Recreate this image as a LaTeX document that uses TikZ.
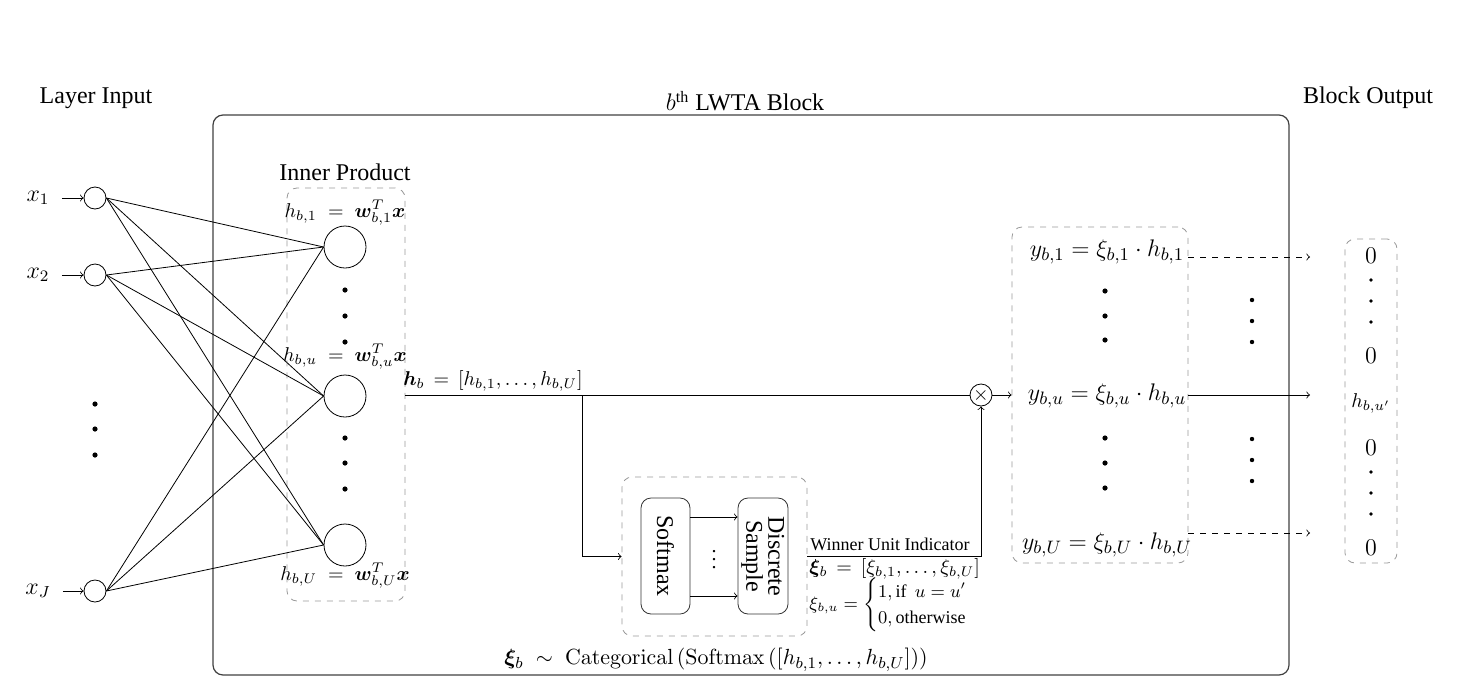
\documentclass[tikz,border=0pt]{standalone}
\usepackage{amsmath, amssymb}
\usepackage{bm}
\usepackage[no-math]{fontspec}
\setmainfont{Liberation Serif}
\usetikzlibrary{positioning}

\tikzset{
	unit/.style={draw, circle, minimum size=11pt, inner sep=0pt},
	hidden/.style={draw, circle, minimum size=21pt, inner sep=0pt},
	groupbox/.style={draw=gray!80, dashed, rounded corners=5pt, inner sep=0pt},
	opbox/.style={draw=black!80, rounded corners=5pt, minimum width=24.5pt, minimum height=58pt, inner sep=0pt, font=\large},
	mulnode/.style={draw, circle, minimum size=11pt, inner sep=0pt},
	ylabel/.style={font=\fontsize{13}{15}\selectfont},
}

\begin{document}
\begin{tikzpicture}[x=0.5pt, y=-0.5pt]
	\useasboundingbox (0,0) rectangle (1468,697);

	% --- Block frame and titles ---
	\node[draw=black!75, semithick, rounded corners=5pt, minimum width=538pt, minimum height=280pt, inner sep=0pt] (block) at (751,395) {};
	\node[font=\large] (blocktitle) at (745,101) {$b^{\text{th}}$ LWTA Block};
	\node[font=\large] (intitle) at (96,98) {Layer Input};
	\node[font=\large] (outtitle) at (1368,98) {Block Output};

	% --- Left: layer input ---
	\node[unit] (in1) at (95,198) {};
	\node[unit] (in2) at (95,275) {};
	\node[unit] (inJ) at (95,591) {};
	\node[font=\large, inner sep=2pt] (lx1) at (38,198) {$x_1$};
	\node[font=\large, inner sep=2pt] (lx2) at (38,275) {$x_2$};
	\node[font=\large, inner sep=2pt] (lxJ) at (38,591) {$x_J$};
	\draw[->] ([xshift=4pt]lx1.east) -- (in1);
	\draw[->] ([xshift=4pt]lx2.east) -- (in2);
	\draw[->] ([xshift=4pt]lxJ.east) -- (inJ);
	\foreach \y in {404,429,455}
		\fill (95,\y) circle (1.3pt);

	% --- Inner product units ---
	\node[groupbox, minimum width=59pt, minimum height=206.5pt] (ipbox) at (346,394.5) {};
	\node[font=\large] (iptitle) at (345,172) {Inner Product};
	\node[hidden] (h1) at (345,247) {};
	\node[hidden] (hu) at (345,396) {};
	\node[hidden] (hU) at (345,545) {};
	\node (lh1) at (345,213) {$h_{b,1}\;=\;\bm{w}^T_{b,1}\bm{x}$};
	\node (lhu) at (345,357) {$h_{b,u}\;=\;\bm{w}^T_{b,u}\bm{x}$};
	\node (lhU) at (345,576) {$h_{b,U}\;=\;\bm{w}^T_{b,U}\bm{x}$};
	\foreach \y in {290,316,342,438,463,489}
		\fill (345,\y) circle (1.3pt);

	% Full connections
	\foreach \i in {in1,in2,inJ}
		\foreach \h in {h1,hu,hU}
			\draw (\i.east) -- (\h.west);

	% --- Main path to the multiplier ---
	\node[mulnode] (mul) at (981,395) {$\times$};
	\coordinate (split) at (582,395);
	\draw (ipbox.east |- mul) -- (mul);
	\node (lhb) at (493,381) {$\bm{h}_b\,=\,[h_{b,1},\ldots,h_{b,U}]$};

	% --- Competition: softmax and sampling ---
	\node[groupbox, minimum width=92.5pt, minimum height=79.5pt] (smbox) at (714.5,556.5) {};
	\node[opbox] (smax) at (665.5,556) {\rotatebox{-90}{Softmax}};
	\node[opbox] (dsamp) at (763,556) {\rotatebox{-90}{\begin{tabular}{@{}c@{}}Discrete\\[-3pt]Sample\end{tabular}}};
	\draw[->] ([yshift=19.5pt]smax.east) -- ([yshift=19.5pt]dsamp.west);
	\draw[->] ([yshift=-20pt]smax.east) -- ([yshift=-20pt]dsamp.west);
	\node (mdots) at (714,554) {$\vdots$};
	\draw[->] (split) |- (smbox.west);
	\draw[->] (smbox.east) -| (mul.south);

	\node[font=\small] (lwin) at (890,544) {Winner Unit Indicator};
	\node[anchor=west, inner sep=1pt] (lxi) at (807,569) {$\bm{\xi}_b\,=\,[\xi_{b,1},\ldots,\xi_{b,U}]$};
	\node[anchor=west, inner sep=1pt, font=\small] (lcases) at (807,605) {$\xi_{b,u}=\begin{cases}1,\text{if}\;\,u=u'\\0,\text{otherwise}\end{cases}$};
	\node[font=\fontsize{11}{13}\selectfont] (lcat) at (716,660) {$\bm{\xi}_b\;\sim\;\mathrm{Categorical}\left(\mathrm{Softmax}\left([h_{b,1},\ldots,h_{b,U}]\right)\right)$};

	% --- Right: unit outputs ---
	\node[groupbox, minimum width=88pt, minimum height=168pt] (ybox) at (1100,395) {};
	\draw[->] (mul) -- (ybox.west |- mul);
	\node[ylabel] (y1) at (1107,252) {$y_{b,1}=\xi_{b,1}\cdot h_{b,1}$};
	\node[ylabel] (yu) at (1107,396) {$y_{b,u}=\xi_{b,u}\cdot h_{b,u}$};
	\node[ylabel] (yU) at (1107,545) {$y_{b,U}=\xi_{b,U}\cdot h_{b,U}$};
	\foreach \y in {291,316,340,438,463,488}
		\fill (1105,\y) circle (1.3pt);

	\coordinate (t1) at (1310,257);
	\coordinate (tu) at (1310,395);
	\coordinate (tU) at (1310,533);
	\draw[->, dashed] (ybox.east |- t1) -- (t1);
	\draw[->] (ybox.east |- tu) -- (tu);
	\draw[->, dashed] (ybox.east |- tU) -- (tU);
	\foreach \y in {300,321,342,439,460,481}
		\fill (1252,\y) circle (1.1pt);

	% --- Block output vector ---
	\node[groupbox, minimum width=26pt, minimum height=162pt] (outbox) at (1371,401) {};
	\node[font=\large] (o1) at (1371,256) {$0$};
	\node[font=\large] (o2) at (1371,356) {$0$};
	\node (ow) at (1371,403) {$h_{b,u'}$};
	\node[font=\large] (o3) at (1371,448) {$0$};
	\node[font=\large] (o4) at (1371,548) {$0$};
	\foreach \y in {280,301,322,472,493,514}
		\fill (1371,\y) circle (0.9pt);
\end{tikzpicture}
\end{document}
